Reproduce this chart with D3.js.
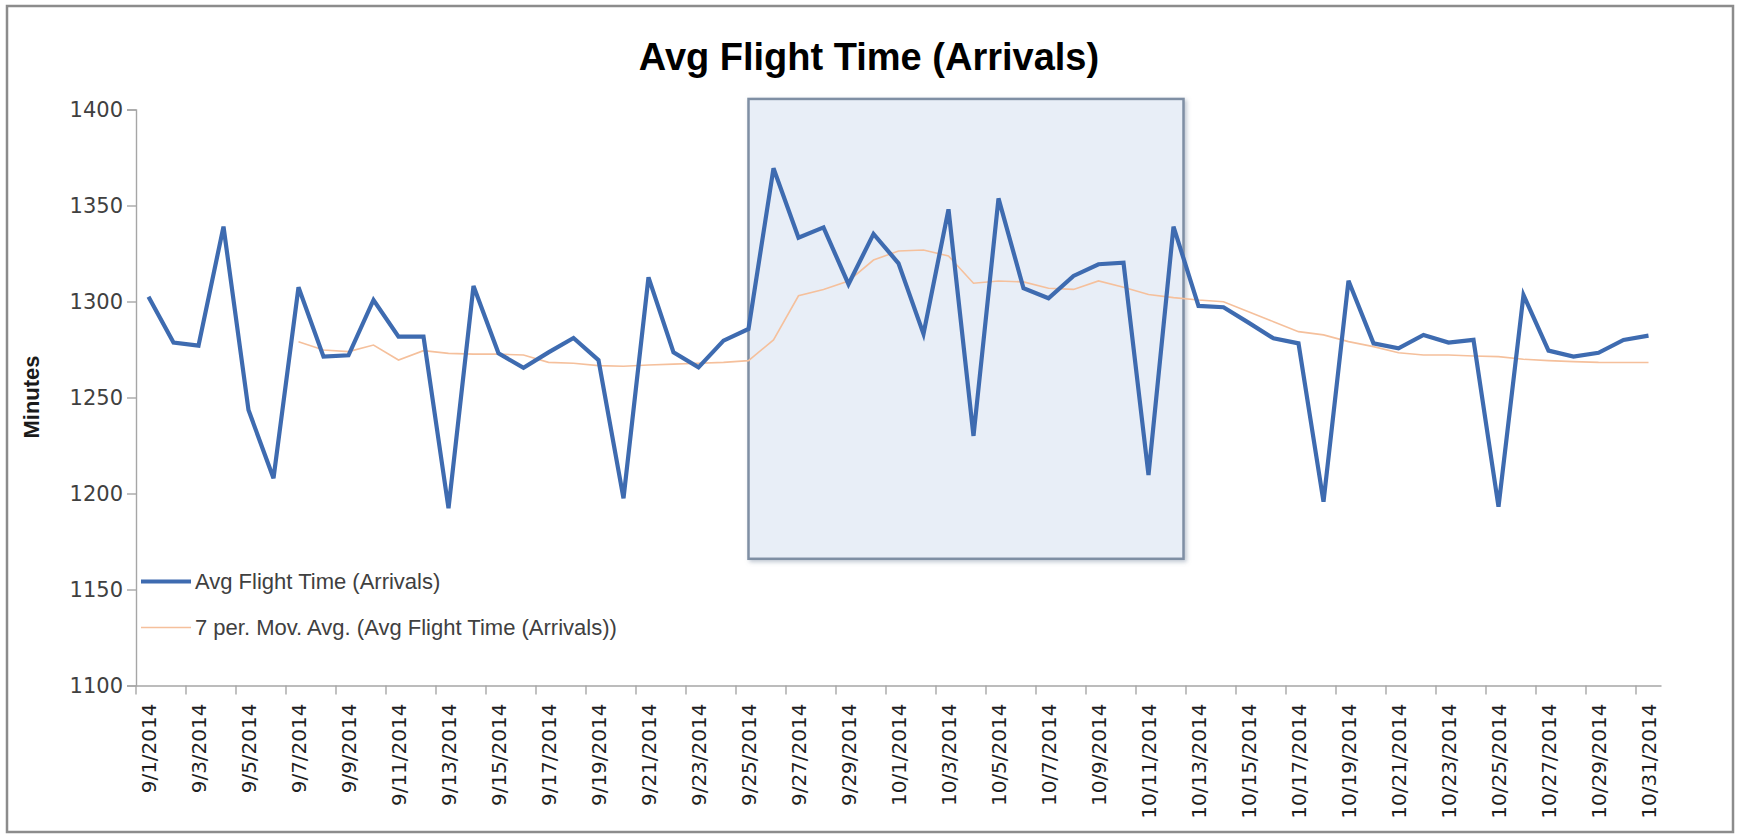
<!DOCTYPE html>
<html>
<head>
<meta charset="utf-8">
<title>Avg Flight Time (Arrivals)</title>
<script src="https://cdn.jsdelivr.net/npm/d3@7"></script>
<style>
  html, body { margin: 0; padding: 0; background: #fff; }
  #svg-container { width: 1739px; height: 837px; }
</style>
</head>
<body>
<div id="svg-container"></div>
<script>
// categories: one per day, 9/1/2014 .. 10/31/2014
const dates = [
  "9/1/2014","9/2/2014","9/3/2014","9/4/2014","9/5/2014","9/6/2014","9/7/2014","9/8/2014",
  "9/9/2014","9/10/2014","9/11/2014","9/12/2014","9/13/2014","9/14/2014","9/15/2014","9/16/2014",
  "9/17/2014","9/18/2014","9/19/2014","9/20/2014","9/21/2014","9/22/2014","9/23/2014","9/24/2014",
  "9/25/2014","9/26/2014","9/27/2014","9/28/2014","9/29/2014","9/30/2014",
  "10/1/2014","10/2/2014","10/3/2014","10/4/2014","10/5/2014","10/6/2014","10/7/2014","10/8/2014",
  "10/9/2014","10/10/2014","10/11/2014","10/12/2014","10/13/2014","10/14/2014","10/15/2014","10/16/2014",
  "10/17/2014","10/18/2014","10/19/2014","10/20/2014","10/21/2014","10/22/2014","10/23/2014","10/24/2014",
  "10/25/2014","10/26/2014","10/27/2014","10/28/2014","10/29/2014","10/30/2014","10/31/2014"
];

// Avg Flight Time (Arrivals), minutes
const flightTime = [
  1302.5, 1278.6, 1277.0, 1339.0, 1243.5, 1207.9, 1307.4, 1271.3, 1272.0, 1300.8,
  1281.7, 1281.7, 1192.3, 1308.1, 1273.0, 1265.5, 1273.5, 1281.0, 1269.5, 1197.5,
  1312.6, 1273.5, 1265.7, 1279.6, 1285.7, 1369.4, 1333.2, 1338.6, 1309.0, 1335.2,
  1319.9, 1283.1, 1348.0, 1230.0, 1353.7, 1306.9, 1301.7, 1313.3, 1319.4, 1320.2,
  1209.6, 1339.0, 1297.7, 1297.0, 1289.0, 1280.8, 1278.2, 1195.7, 1310.8, 1278.2,
  1275.6, 1282.6, 1278.6, 1280.0, 1193.1, 1303.4, 1274.4, 1271.3, 1273.3, 1280.0,
  1282.2
];

// 7 per. Mov. Avg. (starts on 9/7)
const movAvg = [
  null, null, null, null, null, null, 1279.0, 1274.7, 1273.9, 1277.3,
  1269.5, 1274.4, 1273.0, 1272.6, 1272.6, 1272.1, 1268.3, 1267.8, 1266.6, 1266.3,
  1266.9, 1267.4, 1267.8, 1268.3, 1269.2, 1280.0, 1303.0, 1306.3, 1310.7, 1321.6,
  1326.3, 1326.8, 1323.7, 1309.5, 1310.7, 1310.2, 1306.9, 1306.3, 1310.7, 1307.4,
  1303.6, 1302.0, 1300.8, 1299.9, 1294.7, 1289.5, 1284.3, 1282.6, 1279.1, 1276.5,
  1273.3, 1272.1, 1272.1, 1271.6, 1271.3, 1269.9, 1269.2, 1268.7, 1268.3, 1268.2,
  1268.2
];

const yTicks = [1100, 1150, 1200, 1250, 1300, 1350, 1400];
const seriesNames = ["Avg Flight Time (Arrivals)", "7 per. Mov. Avg. (Avg Flight Time (Arrivals))"];

// highlighted window: category index range and value range
const highlightIdx = [24, 41.4];
const highlightVal = [1166, 1405.5];

const width = 1739, height = 837;
const plot = { left: 136, right: 1661, top: 109.5, bottom: 685.5 };
const blue = '#3e6bb0', orange = '#f5c09c';

const svg = d3.select('#svg-container')
  .append('svg')
  .attr('width', width)
  .attr('height', height);

const x = d3.scaleBand().domain(dates).range([plot.left, plot.right]).padding(0);
const xi = d3.scaleLinear()
  .domain([0, dates.length - 1])
  .range([x(dates[0]) + x.bandwidth() / 2, x(dates[dates.length - 1]) + x.bandwidth() / 2]);
const y = d3.scaleLinear().domain([1100, 1400]).range([plot.bottom, plot.top]);

// chart border
svg.append('rect')
  .attr('x', 7).attr('y', 6)
  .attr('width', 1726).attr('height', 826)
  .attr('fill', '#fff')
  .attr('stroke', '#8c8c8c')
  .attr('stroke-width', 2.5);

// title
svg.append('text')
  .attr('x', 869).attr('y', 70)
  .attr('text-anchor', 'middle')
  .style('font-family', '"Liberation Sans", Arial, sans-serif')
  .style('font-weight', 'bold')
  .style('font-size', '38px')
  .attr('fill', '#000')
  .text('Avg Flight Time (Arrivals)');

// y axis
const yAxis = svg.append('g')
  .attr('transform', `translate(${plot.left},0)`)
  .call(d3.axisLeft(y).tickValues(yTicks).tickSize(9).tickPadding(4).tickFormat(d3.format('d')));
yAxis.select('.domain').attr('stroke', '#a6a6a6').attr('stroke-width', 1.4);
yAxis.selectAll('.tick line').attr('stroke', '#a6a6a6').attr('stroke-width', 1.4);
yAxis.selectAll('.tick text')
  .style('font-family', '"DejaVu Sans", sans-serif')
  .style('font-size', '21px')
  .attr('fill', '#404040');

svg.append('text')
  .attr('transform', 'translate(31,397) rotate(-90)')
  .attr('text-anchor', 'middle')
  .attr('dominant-baseline', 'central')
  .style('font-family', '"Liberation Sans", Arial, sans-serif')
  .style('font-weight', 'bold')
  .style('font-size', '22px')
  .attr('fill', '#1a1a1a')
  .text('Minutes');

// x axis: labels on every other day, tick marks on the band edges
const labelDates = dates.filter((d, i) => i % 2 === 0);
const xAxis = svg.append('g')
  .attr('transform', `translate(0,${plot.bottom})`)
  .call(d3.axisBottom(x).tickValues(labelDates).tickSize(9).tickSizeOuter(0));
xAxis.select('.domain').attr('stroke', '#a6a6a6').attr('stroke-width', 1.4);
xAxis.selectAll('.tick line')
  .attr('stroke', '#a6a6a6')
  .attr('stroke-width', 1.4)
  .attr('x1', -x.step() / 2).attr('x2', -x.step() / 2);
xAxis.selectAll('.tick text')
  .attr('transform', 'rotate(-90)')
  .attr('text-anchor', 'end')
  .attr('x', -18)
  .attr('y', 0)
  .attr('dy', '0.36em')
  .style('font-family', '"DejaVu Sans", sans-serif')
  .style('font-size', '20px')
  .attr('fill', '#1f1f1f');

// highlight box (behind the lines)
const defs = svg.append('defs');
const shadow = defs.append('filter').attr('id', 'shadow')
  .attr('x', '-5%').attr('y', '-5%').attr('width', '115%').attr('height', '115%');
shadow.append('feDropShadow')
  .attr('dx', 2).attr('dy', 2).attr('stdDeviation', 2)
  .attr('flood-color', '#7f8fa3').attr('flood-opacity', 0.5);

svg.append('rect')
  .attr('x', xi(highlightIdx[0]))
  .attr('y', y(highlightVal[1]))
  .attr('width', xi(highlightIdx[1]) - xi(highlightIdx[0]))
  .attr('height', y(highlightVal[0]) - y(highlightVal[1]))
  .attr('fill', '#e8eef7')
  .attr('stroke', '#7f8fa4')
  .attr('stroke-width', 2.5)
  .attr('filter', 'url(#shadow)');

// series
const line = d3.line()
  .defined(d => d != null)
  .x((d, i) => xi(i))
  .y(d => y(d));

svg.append('path')
  .attr('d', line(movAvg))
  .attr('fill', 'none')
  .attr('stroke', orange)
  .attr('stroke-width', 1.6);

svg.append('path')
  .attr('d', line(flightTime))
  .attr('fill', 'none')
  .attr('stroke', blue)
  .attr('stroke-width', 4.2)
  .attr('stroke-linejoin', 'miter');

// legend
const legend = svg.append('g');
const legendRows = [
  { name: seriesNames[0], color: blue, w: 4.2, y: 581.5 },
  { name: seriesNames[1], color: orange, w: 1.6, y: 627.5 }
];
legendRows.forEach(r => {
  legend.append('line')
    .attr('x1', 141).attr('x2', 191)
    .attr('y1', r.y).attr('y2', r.y)
    .attr('stroke', r.color)
    .attr('stroke-width', r.w);
  legend.append('text')
    .attr('x', 195).attr('y', r.y)
    .attr('dy', '0.33em')
    .style('font-family', '"Liberation Sans", Arial, sans-serif')
    .style('font-size', '22px')
    .attr('fill', '#404040')
    .text(r.name);
});
</script>
</body>
</html>
